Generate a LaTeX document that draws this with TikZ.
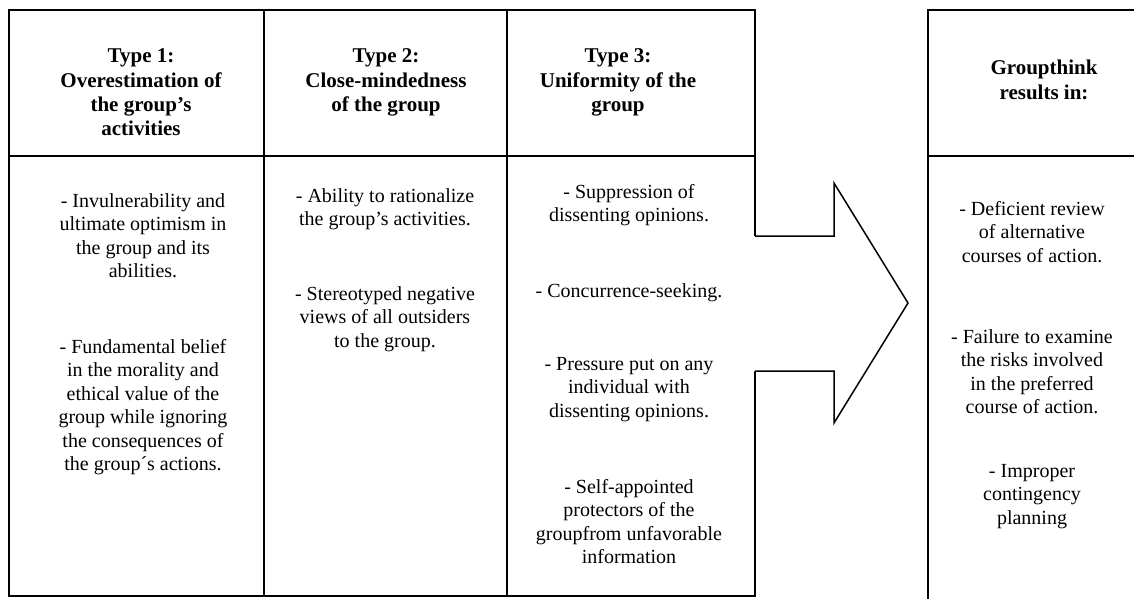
\documentclass[tikz,border=0pt]{standalone}
\usepackage{fontspec}
\setmainfont{Liberation Serif}
\begin{document}
\begin{tikzpicture}[x=1pt,y=-1pt,
  frame/.style={line width=2pt, line cap=rect},
  arrowline/.style={line width=1.5pt, line join=miter},
  head/.style={font=\bfseries\fontsize{21}{24.3}\selectfont, align=center, inner sep=0pt, anchor=base},
  body/.style={font=\fontsize{20}{23.5}\selectfont, align=center, inner sep=0pt, anchor=base}]
\useasboundingbox (0,0) rectangle (1134,599);
% multi-line nodes are placed by the baseline of their last line:
% first baseline + (lines - 1) * line spacing
\def\hs{24.3}
\def\bs{23.5}

% table of the three types
\draw[frame] (9,10) rectangle (755,596);
\draw[frame] (9,156) -- (755,156);
\draw[frame] (264,10) -- (264,596);
\draw[frame] (507,10) -- (507,596);

% results box, running off the page to the right and bottom
\draw[frame] (1145,10) -- (928,10) -- (928,610);
\draw[frame] (928,156) -- (1145,156);

% block arrow from the table to the results box
\fill[white] (753,236) -- (834,236) -- (834,183) -- (908,303) -- (834,423) -- (834,371) -- (753,371) -- cycle;
\draw[arrowline] (755,236) -- (834,236) -- (834,183) -- (908,303) -- (834,423) -- (834,371) -- (755,371);

% headers
\node[head] (h1) at (141,63+3*\hs) {Type 1:\\Overestimation of\\the group’s\\activities};
\node[head] (h2) at (386,63+2*\hs) {Type 2:\\Close-mindedness\\of the group};
\node[head] (h3) at (618,63+2*\hs) {Type 3:\\Uniformity of the\\group};
\node[head] (h4) at (1044,75+\hs) {Groupthink\\results in:};

% type 1
\node[body] (t1a) at (143,207+3*\bs) {- Invulnerability and\\ultimate optimism in\\the group and its\\abilities.};
\node[body] (t1b) at (143,353+5*\bs) {- Fundamental belief\\in the morality and\\ethical value of the\\group while ignoring\\the consequences of\\the group´s actions.};

% type 2
\node[body] (t2a) at (385,202+\bs) {- Ability to rationalize\\the group’s activities.};
\node[body] (t2b) at (385,300+2*\bs) {- Stereotyped negative\\views of all outsiders\\to the group.};

% type 3
\node[body] (t3a) at (629,198+\bs) {- Suppression of\\dissenting opinions.};
\node[body] (t3b) at (629,297) {- Concurrence-seeking.};
\node[body] (t3c) at (629,370+2*\bs) {- Pressure put on any\\individual with\\dissenting opinions.};
\node[body] (t3d) at (629,493+3*\bs) {- Self-appointed\\protectors of the\\groupfrom unfavorable\\information};

% results
\node[body] (r1) at (1032,215+2*\bs) {- Deficient review\\of alternative\\courses of action.};
\node[body] (r2) at (1032,343+3*\bs) {- Failure to examine\\the risks involved\\in the preferred\\course of action.};
\node[body] (r3) at (1032,477+2*\bs) {- Improper\\contingency\\planning};
\end{tikzpicture}
\end{document}
